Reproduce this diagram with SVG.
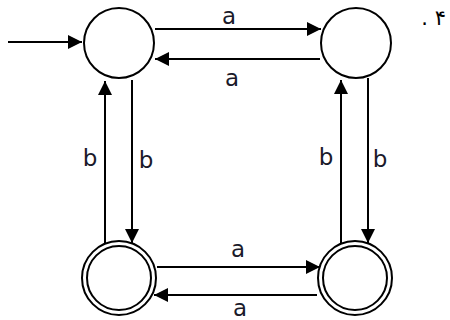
<svg xmlns="http://www.w3.org/2000/svg" width="450" height="320" viewBox="0 0 450 320">
<style>
.st{fill:none;stroke:#000;stroke-width:2}
.ln{fill:none;stroke:#000;stroke-width:2;marker-end:url(#ah)}
.lb{font-family:"DejaVu Sans",Verdana,sans-serif;font-size:23px;fill:#1a1a2a;text-anchor:middle}
</style>
<defs>
<marker id="ah" markerUnits="userSpaceOnUse" markerWidth="15" markerHeight="14" refX="14" refY="7" orient="auto">
<path d="M0,0 L14,7 L0,14 z" fill="#000"/>
</marker>
</defs>
<rect width="450" height="320" fill="#fff"/>
<g id="connectors">
<line class="ln" x1="8" y1="42" x2="82" y2="42"/>
<line class="ln" x1="155" y1="29" x2="321" y2="29"/>
<line class="ln" x1="320" y1="59" x2="155" y2="59"/>
<line class="ln" x1="105" y1="243" x2="105" y2="81"/>
<line class="ln" x1="132" y1="80" x2="132" y2="243"/>
<line class="ln" x1="341" y1="243" x2="341" y2="80"/>
<line class="ln" x1="368" y1="78" x2="368" y2="243"/>
<line class="ln" x1="157" y1="267" x2="320" y2="267"/>
<line class="ln" x1="317" y1="295" x2="154" y2="295"/>
<text class="lb" x="229" y="24">a</text>
<text class="lb" x="232" y="86">a</text>
<text class="lb" x="90" y="166">b</text>
<text class="lb" x="146" y="168">b</text>
<text class="lb" x="326" y="165">b</text>
<text class="lb" x="380" y="167">b</text>
<text class="lb" x="238" y="257">a</text>
<text class="lb" x="240" y="316">a</text>
</g>
<g id="q0"><circle class="st" cx="119" cy="43" r="35"/></g>
<g id="q1"><circle class="st" cx="356" cy="43" r="35"/></g>
<g id="q2"><circle class="st" cx="119" cy="278" r="37"/><circle class="st" cx="119" cy="278" r="32"/></g>
<g id="q3"><circle class="st" cx="355" cy="278" r="37"/><circle class="st" cx="355" cy="278" r="32"/></g>
<text x="446" y="25" direction="rtl" unicode-bidi="embed" text-anchor="start" font-family="'DejaVu Sans',sans-serif" font-size="21" fill="#000">۴ .</text>
</svg>
